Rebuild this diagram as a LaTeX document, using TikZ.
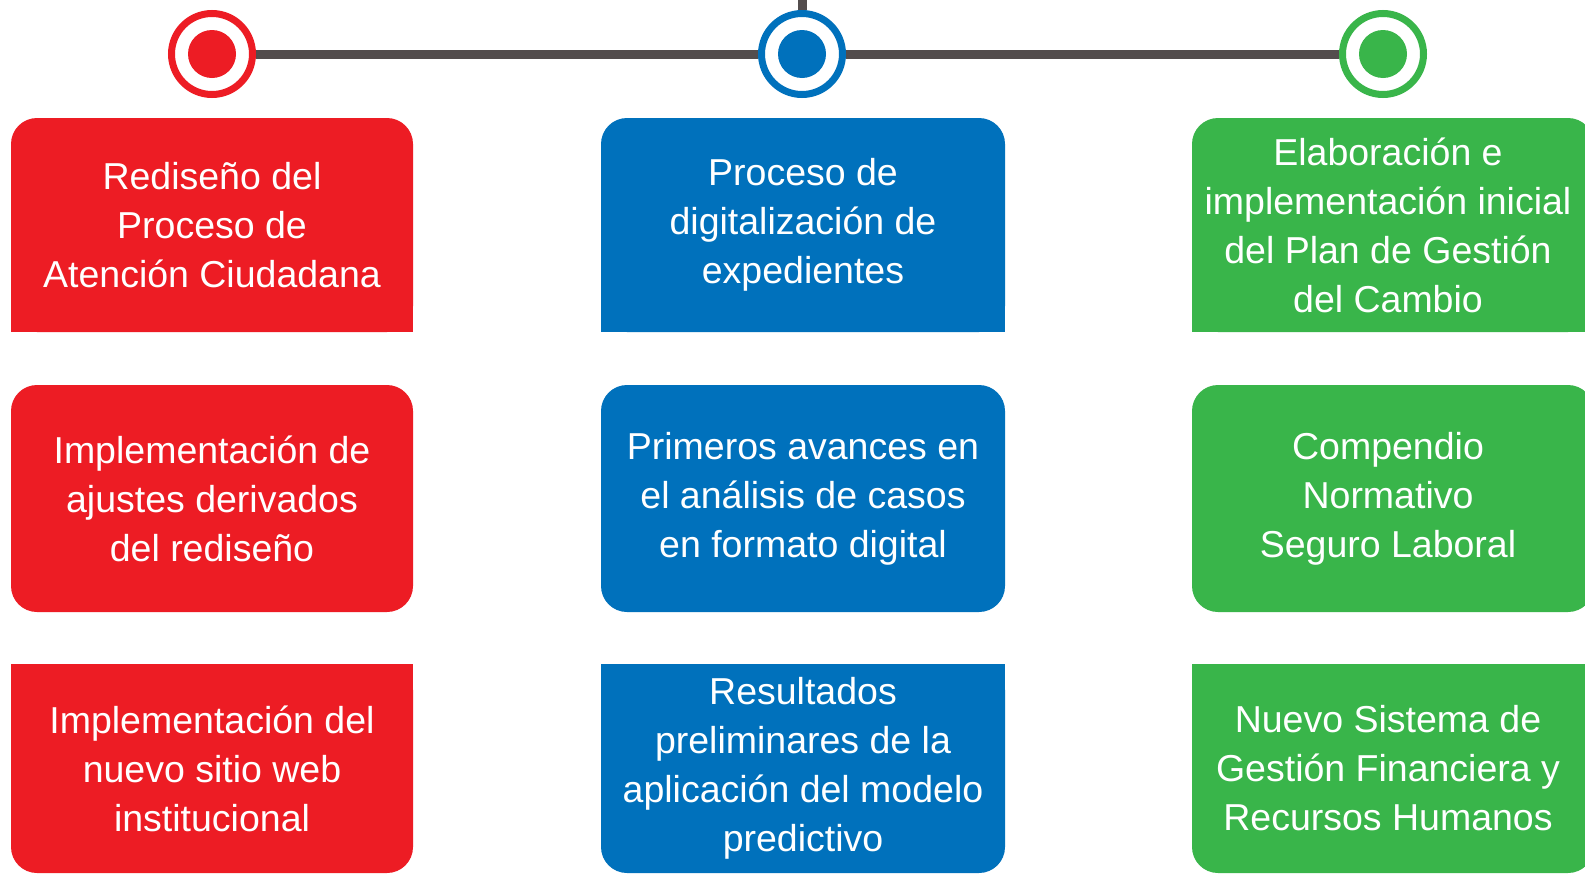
\documentclass[tikz,border=0pt]{standalone}
\usepackage{fontspec}
\setmainfont{Liberation Sans}
\definecolor{cred}{HTML}{ED1C24}
\definecolor{cblue}{HTML}{0071BC}
\definecolor{cgreen}{HTML}{39B54A}
\definecolor{cline}{HTML}{534D4D}
\tikzset{
  ring/.style={circle, draw=#1, line width=7pt, fill=white, minimum size=81pt, inner sep=0pt},
  dot/.style={circle, fill=#1, minimum size=48pt, inner sep=0pt},
  conn/.style={draw=cline, line width=9pt},
  boxtext/.style={text=white, align=center, inner sep=0pt, font=\fontsize{37.5}{49}\selectfont},
}
% \cbox{name}{color}{x1}{y1}{x2}{y2}{squarepart: top|bottom|none}{text x}{text}
\newcommand{\cardbox}[9]{%
  \fill[#2, rounded corners=26pt] (#3,#4) rectangle (#5,#6);
  \ifx#7t\fill[#2] (#3,#4) rectangle (#5,{(#4+#6)/2});\fi
  \ifx#7b\fill[#2] (#3,{(#4+#6)/2}) rectangle (#5,#6);\fi
  \node[boxtext] (#1) at (#8,{(#4+#6)/2}) {#9};
}
\begin{document}
\begin{tikzpicture}[x=1pt,y=-1pt]
\useasboundingbox (0,0) rectangle (1585,873);
\clip (0,0) rectangle (1585,873);
\fill[white] (0,0) rectangle (1585,873);
% circles
\node[ring=cred] (cr) at (212,54) {};
\node[ring=cblue] (cb) at (802,54) {};
\node[ring=cgreen] (cg) at (1383,54) {};
\coordinate (top) at (802,0);
\begin{scope}[on background layer/.try]
\end{scope}
\path[conn] (cr.east) -- (cb.west);
\path[conn] (cb.east) -- (cg.west);
\path[conn] (cb.north) -- (top);
\node[dot=cred] (dr) at (cr) {};
\node[dot=cblue] (db) at (cb) {};
\node[dot=cgreen] (dg) at (cg) {};
% row 1 (square bottom)
\cardbox{r1}{cred}{11}{118}{413}{332}{b}{212}{Rediseño del\\Proceso de\\Atención Ciudadana}
\cardbox{b1}{cblue}{601}{118}{1005}{332}{b}{803}{Proceso de\\digitalización de\\expedientes}
\cardbox{g1}{cgreen}{1192}{118}{1594}{332}{b}{1388}{Elaboración e\\implementación inicial\\del Plan de Gestión\\del Cambio}
% row 2 (all rounded)
\cardbox{r2}{cred}{11}{385}{413}{612}{n}{212}{Implementación de\\ajustes derivados\\del rediseño}
\cardbox{b2}{cblue}{601}{385}{1005}{612}{n}{803}{Primeros avances en\\el análisis de casos\\en formato digital}
\cardbox{g2}{cgreen}{1192}{385}{1594}{612}{n}{1388}{Compendio\\Normativo\\Seguro Laboral}
% row 3 (square top)
\cardbox{r3}{cred}{11}{664}{413}{873}{t}{212}{Implementación del\\nuevo sitio web\\institucional}
\cardbox{b3}{cblue}{601}{664}{1005}{873}{t}{803}{Resultados\\preliminares de la\\aplicación del modelo\\predictivo}
\cardbox{g3}{cgreen}{1192}{664}{1594}{873}{t}{1388}{Nuevo Sistema de\\Gestión Financiera y\\Recursos Humanos}
\end{tikzpicture}
\end{document}
